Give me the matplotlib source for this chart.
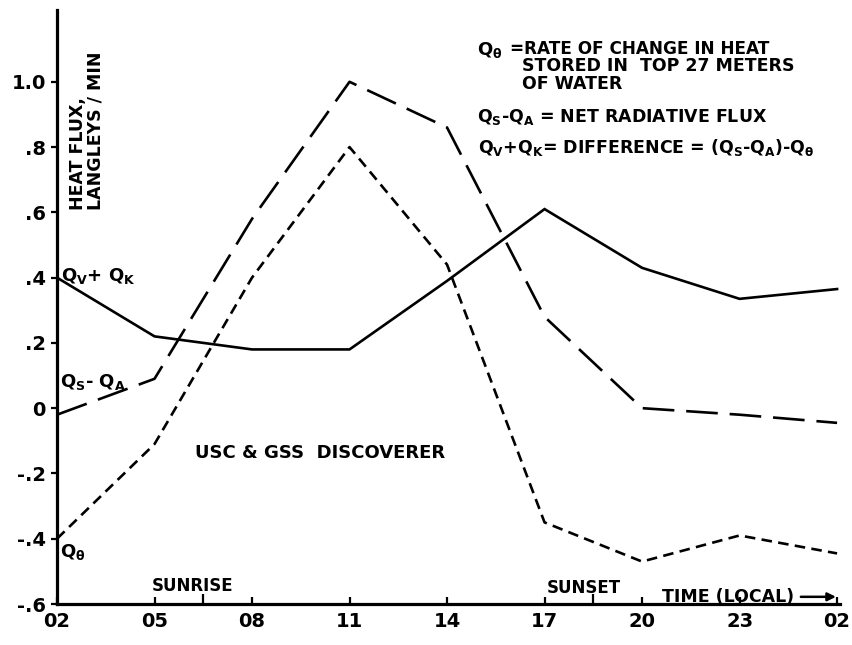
import matplotlib
matplotlib.use('Agg')
import matplotlib.pyplot as plt

plt.rcParams['font.weight'] = 'bold'

# hours after 02 local, one reading every 3 hours
hours = [0, 3, 6, 9, 12, 15, 18, 21, 24]
time_labels = ['02', '05', '08', '11', '14', '17', '20', '23', '02']

qv_qk = [0.40, 0.22, 0.18, 0.18, 0.39, 0.61, 0.43, 0.335, 0.365]
qs_qa = [-0.02, 0.09, 0.58, 1.00, 0.86, 0.28, 0.00, -0.02, -0.045]
q_theta = [-0.40, -0.11, 0.40, 0.80, 0.44, -0.35, -0.47, -0.39, -0.445]

y_ticks = [-0.6, -0.4, -0.2, 0, 0.2, 0.4, 0.6, 0.8, 1.0]
y_labels = ['-.6', '-.4', '-.2', '0', '.2', '.4', '.6', '.8', '1.0']

sunrise, sunset = 4.5, 16.5

W, H = 853, 645
fig = plt.figure(figsize=(W / 100, H / 100), dpi=100)
ax = fig.add_axes([57 / W, 1 - 604 / H, 783 / W, 594 / H])

def put(x, y, s, **kw):
    # place text by pixel position on the page
    kw.setdefault('fontsize', 12.5)
    kw.setdefault('fontweight', 'bold')
    kw.setdefault('color', 'black')
    fig.text(x / W, 1 - y / H, s, **kw)

ax.plot(hours, qv_qk, color='black', lw=1.9, solid_joinstyle='miter')
ax.plot(hours, qs_qa, color='black', lw=1.9, dashes=(12, 4.5))
ax.plot(hours, q_theta, color='black', lw=1.9, dashes=(4, 2.4))

ax.set_xlim(0, 24.09)
ax.set_ylim(-0.6, 1.22)

for s in ['top', 'right']:
    ax.spines[s].set_visible(False)
for s in ['left', 'bottom']:
    ax.spines[s].set_linewidth(2.3)

ax.set_xticks(hours)
ax.set_xticklabels(time_labels)
ax.set_xticks([sunrise, sunset], minor=True)
ax.tick_params(axis='x', which='major', direction='in', length=5, width=1.6,
               pad=6, labelsize=14)
ax.tick_params(axis='x', which='minor', direction='in', length=7, width=1.6)

ax.set_yticks(y_ticks)
ax.set_yticklabels(y_labels)
ax.tick_params(axis='y', direction='out', length=4, width=1.6, pad=4,
               labelsize=14)

# axis title written up the inside of the y axis
put(87, 210, 'HEAT FLUX,\nLANGLEYS / MIN', rotation=90, ha='center',
    va='bottom', multialignment='left', fontsize=12.5, linespacing=0.95)

# curve names
put(61, 281, r'$\mathregular{Q_V}$+ $\mathregular{Q_K}$', fontsize=13,
    va='baseline')
put(60, 387, r'$\mathregular{Q_S}$- $\mathregular{Q_A}$', fontsize=13,
    va='baseline')
put(60, 557, r'$\mathregular{Q_\theta}$', fontsize=13, va='baseline')

# key in the upper right
put(477, 55, r'$\mathregular{Q_\theta}$', fontsize=13, va='baseline')
put(510, 54, '=RATE OF CHANGE IN HEAT', fontsize=12.2, va='baseline')
put(522, 71, 'STORED IN  TOP 27 METERS', va='baseline')
put(522, 89, 'OF WATER', va='baseline')
put(477, 122, r'$\mathregular{Q_S}$-$\mathregular{Q_A}$ = NET RADIATIVE FLUX',
    va='baseline')
put(478, 153, r'$\mathregular{Q_V}$+$\mathregular{Q_K}$= DIFFERENCE = '
    r'($\mathregular{Q_S}$-$\mathregular{Q_A}$)-$\mathregular{Q_\theta}$',
    va='baseline')

put(195, 458, 'USC & GSS  DISCOVERER', fontsize=13, va='baseline')

put(152, 591, 'SUNRISE', fontsize=12, va='baseline')
put(547, 593, 'SUNSET', fontsize=12, va='baseline')
put(662, 602, 'TIME (LOCAL)', fontsize=12.5, va='baseline')
ax.annotate('', xy=(24.05, -0.578), xytext=(22.8, -0.578),
            arrowprops=dict(arrowstyle='-|>', color='black', lw=1.8,
                            mutation_scale=12))

plt.savefig('out.png', format='png')
plt.close()
